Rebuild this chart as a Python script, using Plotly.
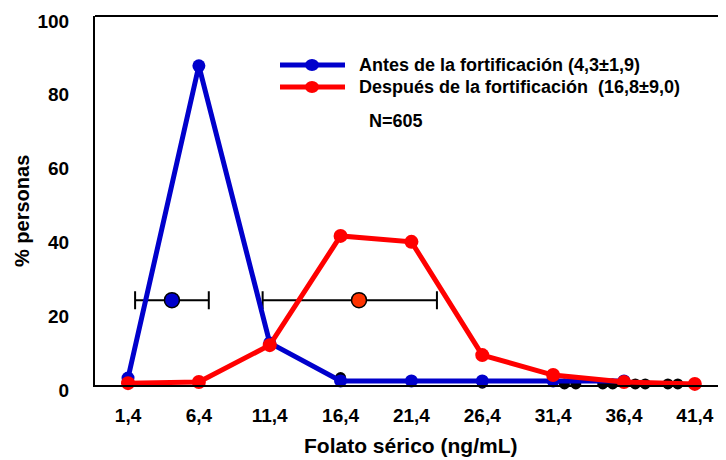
import plotly.graph_objects as go

# ---- data ----
x_vals = [1.4, 6.4, 11.4, 16.4, 21.4, 26.4, 31.4, 36.4, 41.4]
x_labels = ["1,4", "6,4", "11,4", "16,4", "21,4", "26,4", "31,4", "36,4", "41,4"]
antes_x = [1.4, 6.4, 11.4, 16.4, 21.4, 26.4, 31.4, 36.4]
antes_y = [1.9, 86.5, 11.4, 1.1, 1.1, 1.1, 1.1, 1.1]
despues_y = [0.5, 0.8, 10.8, 40.4, 38.8, 8.1, 2.7, 0.8, 0.3]
# stray black markers near the baseline
extra_x = [16.4, 19.0, 26.4, 32.2, 33.0, 34.0, 34.9, 35.6, 37.2, 37.9, 38.8, 39.5, 40.2]
extra_y = [2.0, -0.8, 0.5, 0.3, 0.3, -0.8, 0.3, 0.3, 0.3, 0.3, -0.8, 0.3, 0.3]
# mean ± SD markers
mean_antes, mean_antes_y, err_antes_minus, err_antes_plus = 4.5, 23.0, 2.6, 2.6
mean_desp, mean_desp_y, err_desp_minus, err_desp_plus = 17.7, 23.0, 6.8, 5.5
legend_texts = ["Antes de la fortificación (4,3±1,9)",
                "Después de la fortificación  (16,8±9,0)"]
n_text = "N=605"
x_title = "Folato sérico (ng/mL)"
y_title = "% personas"

BLUE = "#0000CC"
RED = "#FF0000"
FONT = "Liberation Sans"

# page has an 8px body margin; figure is sized/offset to compensate
OFF = 8

fig = go.Figure()

fig.add_trace(go.Scatter(
    x=[mean_antes], y=[mean_antes_y], mode="markers",
    marker=dict(size=15, color=BLUE, line=dict(color="black", width=1.5)),
    error_x=dict(type="data", symmetric=False, array=[err_antes_plus],
                 arrayminus=[err_antes_minus], color="black", thickness=2, width=9),
    showlegend=False, cliponaxis=False))
fig.add_trace(go.Scatter(
    x=[mean_desp], y=[mean_desp_y], mode="markers",
    marker=dict(size=15, color="#FF3300", line=dict(color="black", width=1.5)),
    error_x=dict(type="data", symmetric=False, array=[err_desp_plus],
                 arrayminus=[err_desp_minus], color="black", thickness=2, width=9),
    showlegend=False, cliponaxis=False))

fig.add_trace(go.Scatter(
    x=extra_x, y=extra_y, mode="markers",
    marker=dict(size=11, color="black"), showlegend=False, cliponaxis=False))

fig.add_trace(go.Scatter(
    x=antes_x, y=antes_y, mode="lines+markers", name=legend_texts[0],
    line=dict(color=BLUE, width=5), marker=dict(size=13, color=BLUE),
    showlegend=False, cliponaxis=False))
fig.add_trace(go.Scatter(
    x=x_vals, y=despues_y, mode="lines+markers", name=legend_texts[1],
    line=dict(color=RED, width=5), marker=dict(size=14, color=RED),
    showlegend=False, cliponaxis=False))

# manual legend (paper coords, from page pixel positions)
def px(xp):
    return (xp - 95) / 631.0

def py(yp):
    return (385 - yp) / 369.0

shapes = []
annotations = []
for i, (col, yy) in enumerate([(BLUE, 65), (RED, 87)]):
    shapes.append(dict(type="line", xref="paper", yref="paper",
                       x0=px(280), x1=px(345), y0=py(yy), y1=py(yy),
                       line=dict(color=col, width=5)))
    shapes.append(dict(type="circle", xref="paper", yref="paper",
                       x0=px(305), x1=px(319), y0=py(yy + 6), y1=py(yy - 6),
                       fillcolor=col, line=dict(color=col, width=0)))
    annotations.append(dict(xref="paper", yref="paper", x=px(357), y=py(yy),
                            xanchor="left", yanchor="middle", showarrow=False,
                            text=legend_texts[i],
                            font=dict(family=FONT, size=18, color="black", weight="bold")))
annotations.append(dict(xref="paper", yref="paper", x=px(367), y=py(121),
                        xanchor="left", yanchor="middle", showarrow=False,
                        text=n_text,
                        font=dict(family=FONT, size=18, color="black", weight="bold")))
annotations.append(dict(xref="paper", yref="paper", x=px(411), y=py(446),
                        xanchor="center", yanchor="middle", showarrow=False,
                        text=x_title,
                        font=dict(family=FONT, size=21, color="black", weight="bold")))
annotations.append(dict(xref="paper", yref="paper", x=px(22), y=py(211),
                        xanchor="center", yanchor="middle", showarrow=False,
                        text=y_title, textangle=-90,
                        font=dict(family=FONT, size=20, color="black", weight="bold")))

fig.update_layout(
    width=726 - OFF, height=460 - OFF,
    margin=dict(l=95 - OFF, r=0, t=16 - OFF, b=75),
    plot_bgcolor="white", paper_bgcolor="white",
    shapes=shapes, annotations=annotations,
    font=dict(family=FONT, color="black"),
    xaxis=dict(range=[-0.93, 43.6], tickvals=x_vals, ticktext=x_labels,
               showgrid=False, zeroline=False, showline=True, linecolor="black",
               linewidth=2, mirror=False, ticks="", automargin=False,
               tickfont=dict(family=FONT, size=19, color="black", weight="bold"),
               ticklabelstandoff=12),
    yaxis=dict(range=[0, 100], tickvals=[0, 20, 40, 60, 80, 100],
               showgrid=False, zeroline=False, showline=True, linecolor="black",
               linewidth=2, ticks="", automargin=False,
               tickfont=dict(family=FONT, size=19, color="black", weight="bold"),
               ticklabelstandoff=20, ticklabelshift=5,
               ticklabeloverflow="allow"),
)
# top border line
fig.add_shape(type="line", xref="paper", yref="paper", x0=0, x1=1, y0=1, y1=1,
              line=dict(color="black", width=2))

fig.write_html("out.html")
